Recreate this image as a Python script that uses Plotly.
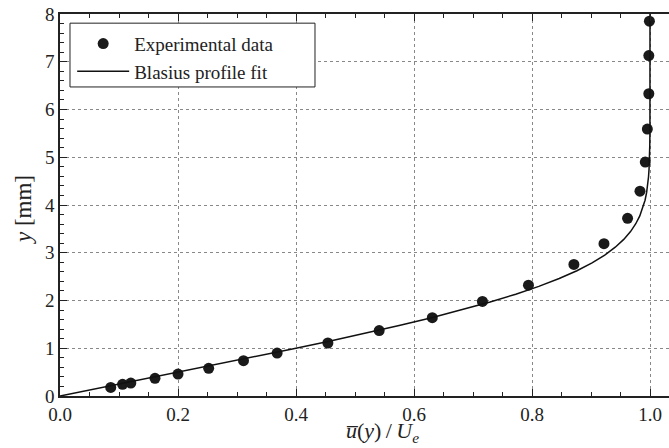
import plotly.graph_objects as go

# Measured mean velocity profile
u_exp = [0.086, 0.106, 0.120, 0.161, 0.200, 0.252, 0.311, 0.368, 0.454,
         0.541, 0.631, 0.716, 0.794, 0.871, 0.922, 0.962, 0.983, 0.992,
         0.9955, 0.998, 0.998, 0.999]
y_exp = [0.18, 0.245, 0.27, 0.37, 0.46, 0.58, 0.74, 0.90, 1.11,
         1.37, 1.64, 1.98, 2.32, 2.755, 3.19, 3.72, 4.29, 4.90,
         5.59, 6.33, 7.13, 7.85]

# Blasius profile fit
u_fit = [0.0, 0.0664, 0.1328, 0.1989, 0.2647, 0.3298, 0.3938, 0.4563, 0.5168,
         0.5748, 0.6298, 0.6813, 0.7290, 0.7725, 0.8115, 0.8461, 0.8761, 0.9018,
         0.9233, 0.9411, 0.9555, 0.9670, 0.9759, 0.9827, 0.9878, 0.9916, 0.9943,
         0.9962, 0.9975, 0.9984, 0.9990, 0.9996, 0.9999, 1.0, 1.0, 1.0, 1.0]
y_fit = [0.0, 0.164, 0.328, 0.492, 0.656, 0.82, 0.984, 1.148, 1.312,
         1.476, 1.64, 1.804, 1.968, 2.132, 2.296, 2.46, 2.624, 2.788,
         2.952, 3.116, 3.28, 3.444, 3.608, 3.772, 3.936, 4.10, 4.264,
         4.428, 4.592, 4.756, 4.92, 5.248, 5.576, 5.904, 6.56, 7.38, 8.0]

FONT = "Liberation Serif"
INK = "#222222"

fig = go.Figure()
fig.add_trace(go.Scatter(
    x=u_exp, y=y_exp, mode="markers", name="Experimental data",
    marker=dict(size=11, color="#1a1a1a", line=dict(width=0)),
))
fig.add_trace(go.Scatter(
    x=u_fit, y=y_fit, mode="lines", name="Blasius profile fit",
    line=dict(color="#111111", width=1.5),
))

# opaque framed box behind the legend entries
fig.add_shape(
    type="rect", xref="paper", yref="paper",
    x0=0.0164, x1=0.4187, y0=0.809, y1=0.976,
    fillcolor="white", line=dict(color=INK, width=1), layer="above",
)

# axis titles
fig.add_annotation(
    text="<i>u̅</i>(<i>y</i>)\u2009/\u2009<i>U</i><sub><i>e</i></sub>",
    xref="paper", yref="paper", x=0.529, y=-0.135,
    xanchor="center", yanchor="bottom", showarrow=False,
    font=dict(family=FONT, size=22, color=INK),
)
fig.add_annotation(
    text="<i>y</i> [mm]", textangle=-90,
    xref="paper", yref="paper", x=-0.059, y=0.487,
    xanchor="center", yanchor="middle", showarrow=False,
    font=dict(family=FONT, size=23, color=INK),
)

fig.update_layout(
    width=669, height=448,
    margin=dict(l=60, r=0, t=14, b=52),
    paper_bgcolor="white", plot_bgcolor="white",
    font=dict(family=FONT, size=19, color=INK),
    showlegend=True,
    legend=dict(
        x=0.02, y=0.972, xanchor="left", yanchor="top",
        bgcolor="rgba(0,0,0,0)", borderwidth=0,
        font=dict(family=FONT, size=19, color=INK),
        itemwidth=52, tracegroupgap=0,
    ),
)

fig.update_xaxes(
    range=[0, 1.0322], tickmode="linear", tick0=0, dtick=0.2, tickformat=".1f",
    tickfont=dict(family=FONT, size=19, color=INK),
    ticks="inside", ticklen=7, tickwidth=1, tickcolor=INK,
    minor=dict(tickmode="linear", tick0=0, dtick=0.05, ticks="inside",
               ticklen=4, tickwidth=1, tickcolor=INK, showgrid=False),
    showline=True, linecolor=INK, linewidth=1.5, mirror="ticks",
    showgrid=True, gridcolor="#888888", griddash="dot", gridwidth=1,
    zeroline=False,
)
fig.update_yaxes(
    range=[0, 8], tickmode="linear", tick0=0, dtick=1,
    tickfont=dict(family=FONT, size=19, color=INK),
    ticks="inside", ticklen=7, tickwidth=1, tickcolor=INK,
    minor=dict(tickmode="linear", tick0=0, dtick=0.2, ticks="inside",
               ticklen=4, tickwidth=1, tickcolor=INK, showgrid=False),
    showline=True, linecolor=INK, linewidth=1.5, mirror=False,
    showgrid=True, gridcolor="#888888", griddash="dot", gridwidth=1,
    zeroline=False,
)

fig.write_html("out.html")
